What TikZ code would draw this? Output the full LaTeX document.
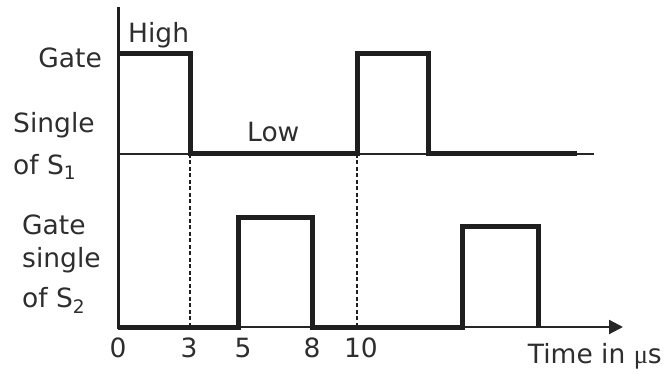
\documentclass[tikz,border=0pt]{standalone}
\usepackage{fontspec}
\setmainfont{DejaVu Sans}
\newfontfamily\mufont{Liberation Serif}
\usetikzlibrary{arrows.meta}
\begin{document}
\begin{tikzpicture}[x=1pt,y=-1pt,
  lbl/.style={inner sep=0pt, text=black!82, font=\fontsize{26.5}{30}\selectfont},
  wave/.style={line width=5pt, line join=miter, draw=black!88},
  thinline/.style={line width=2.2pt, draw=black!85},
  axisline/.style={line width=3pt, draw=black!88},
  dashline/.style={line width=2.2pt, draw=black!88, dash pattern=on 4pt off 2.5pt}]
\useasboundingbox (0,0) rectangle (667,374);
% baselines and axes
\draw[thinline] (118,154) -- (594,154);
\draw[axisline] (118,7) -- (118,328.5);
\draw[thinline, -{Triangle[length=14pt,width=14pt]}] (118,327) -- (623,327);
% dashed markers
\draw[dashline] (190,154) -- (190,327);
\draw[dashline] (357,154) -- (357,327);
% gate signal of S1
\draw[wave] (118,54) -- (190,54) -- (190,154) -- (357,154) -- (357,54) -- (428,54) -- (428,154) -- (577,154);
% gate signal of S2
\draw[wave] (118,327) -- (238,327) -- (238,218) -- (312,218) -- (312,327) -- (462,327) -- (462,227) -- (538,227) -- (538,327);
% labels
\node[lbl, anchor=base west] (high) at (128,43) {High};
\node[lbl, anchor=base east] (gate1) at (102,68) {Gate};
\node[lbl, anchor=base west] (single1) at (13,133) {Single};
\node[lbl, anchor=base west] (of1) at (13,175) {of S\textsubscript{1}};
\node[lbl, anchor=base west] (low) at (247,142) {Low};
\node[lbl, anchor=base west] (gate2) at (22,235) {Gate};
\node[lbl, anchor=base west] (single2) at (22,268) {single};
\node[lbl, anchor=base west] (of2) at (22,308) {of S\textsubscript{2}};
\node[lbl, anchor=base] (t0) at (118,357) {0};
\node[lbl, anchor=base] (t3) at (189,357) {3};
\node[lbl, anchor=base] (t5) at (243,357) {5};
\node[lbl, anchor=base] (t8) at (312,357) {8};
\node[lbl, anchor=base] (t10) at (361,357) {10};
\node[lbl, anchor=base east] (time) at (662,363) {Time in {\mufont μ}s};
\end{tikzpicture}
\end{document}
